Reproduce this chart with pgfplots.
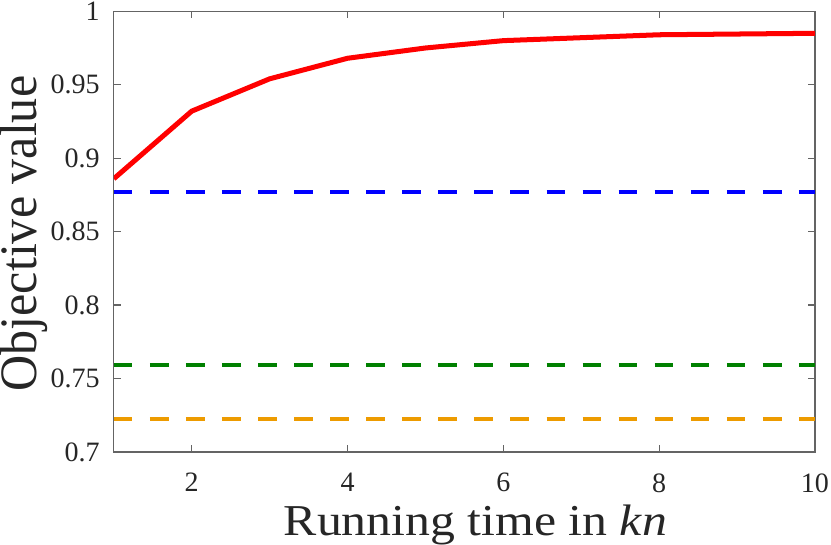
\documentclass[border=0pt]{standalone}
\usepackage{pgfplots}
\pgfplotsset{compat=1.18}
\usepackage{fontspec}
\setmainfont{Liberation Serif}
\definecolor{axgray}{RGB}{100,100,100}
\definecolor{txt}{RGB}{38,38,38}
\definecolor{mgreen}{RGB}{0,128,0}
\definecolor{morange}{RGB}{237,155,0}
\begin{document}
\begin{tikzpicture}
\begin{axis}[
  width=350pt, height=220pt, scale only axis,
  xmin=1, xmax=10, ymin=0.7, ymax=1,
  xtick={2,4,6,8,10},
  xticklabels={2,4,6,8,10},
  ytick={0.7,0.75,0.8,0.85,0.9,0.95,1},
  yticklabels={0.7,0.75,0.8,0.85,0.9,0.95,1},
  tick align=inside, major tick length=3.5pt,
  axis line style={axgray, line width=0.6pt},
  every tick/.style={axgray, line width=0.6pt},
  tick label style={font=\rmfamily\fontsize{14}{16}\selectfont, text=txt, inner sep=1pt},
  /pgf/number format/assume math mode=true,
  xticklabel style={yshift=-9.5pt},
  yticklabel style={xshift=-5.9pt},
  xlabel={Running time in \textit{kn}},
  ylabel={Objective value},
  label style={text=txt, inner sep=0pt},
  xlabel style={font=\rmfamily\fontsize{22}{26}\selectfont,
    at={(axis description cs:0.5,0)}, anchor=base, xshift=5.5pt, yshift=-41.5pt, xscale=1.13},
  ylabel style={font=\rmfamily\fontsize{25}{28}\selectfont,
    at={(axis description cs:0,0.5)}, anchor=south, xshift=-1pt, yshift=32.8pt, yscale=1.05},
]
\addplot[red, line width=2.5pt] coordinates {
(1,0.886) (2,0.932) (3,0.954) (4,0.968) (5,0.975) (6,0.980) (7,0.982) (8,0.984) (9,0.9845) (10,0.985)
};
\addplot[blue, line width=2pt, dash pattern=on 9.3pt off 8.7pt] coordinates {(1,0.877) (10,0.877)};
\addplot[mgreen, line width=2pt, dash pattern=on 9.3pt off 8.7pt] coordinates {(1,0.7595) (10,0.7595)};
\addplot[morange, line width=2pt, dash pattern=on 9.3pt off 8.7pt] coordinates {(1,0.7223) (10,0.7223)};
\end{axis}
\end{tikzpicture}
\end{document}
